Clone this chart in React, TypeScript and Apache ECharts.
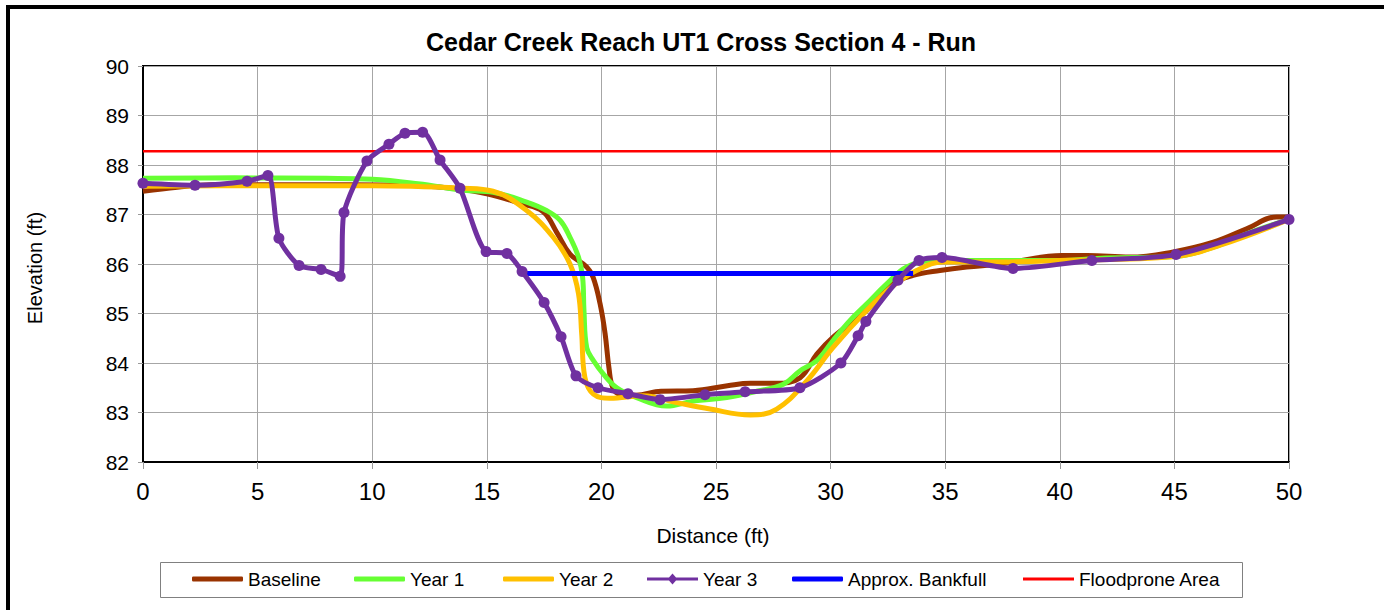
import React, { useEffect, useRef } from "react";
import * as echarts from "echarts";

const FONT = '"Liberation Sans", Arial, sans-serif';

const titleText = "Cedar Creek Reach UT1 Cross Section 4 - Run";
const xAxisName = "Distance (ft)";
const yAxisName = "Elevation (ft)";
const xTicks = { min: 0, max: 50, interval: 5 };
const yTicks = { min: 82, max: 90, interval: 1 };

const seriesNames = ["Baseline", "Year 1", "Year 2", "Year 3", "Approx. Bankfull", "Floodprone Area"];
const seriesColors = ["#993300", "#66FF33", "#FFC000", "#7030A0", "#0000FF", "#FF0000"];

const baseline: [number, number][] = [
  [0, 87.47], [1.5, 87.55], [3, 87.6], [6, 87.6], [9, 87.6], [12, 87.58], [13.5, 87.53],
  [15, 87.42], [16.5, 87.22], [17.45, 87.06], [18.05, 86.64], [18.63, 86.2], [19.36, 85.94],
  [19.64, 85.73], [19.94, 85.2], [20.16, 84.6], [20.33, 83.9], [20.5, 83.5], [20.8, 83.37],
  [21.5, 83.35], [22.6, 83.43], [24.0, 83.44], [25.5, 83.54], [26.5, 83.59], [27.6, 83.59],
  [28.66, 83.7], [29.4, 84.18], [30.1, 84.52], [31.57, 85.06], [32.72, 85.6], [33.6, 85.77],
  [34.77, 85.87], [35.94, 85.94], [37.4, 86.0], [40.1, 86.17], [41.2, 86.17], [43.06, 86.14],
  [44.9, 86.24], [46.7, 86.44], [48.15, 86.71], [49.46, 86.95], [50, 86.95],
];

const year1: [number, number][] = [
  [0, 87.73], [4, 87.74], [8, 87.73], [10, 87.71], [12, 87.62], [14, 87.49], [15.27, 87.45],
  [16.74, 87.25], [17.6, 87.08], [18.2, 86.88], [18.63, 86.54], [19.0, 86.14], [19.18, 85.73],
  [19.24, 85.06], [19.36, 84.31], [19.65, 84.05], [20.08, 83.78], [20.67, 83.5], [21.54, 83.3],
  [22.85, 83.13], [24.0, 83.23], [25.47, 83.3], [26.9, 83.44], [27.94, 83.57], [28.66, 83.84],
  [29.4, 84.05], [30.1, 84.45], [30.85, 84.86], [31.57, 85.19], [32.45, 85.6], [33.32, 85.94],
  [34.47, 86.07], [36.65, 86.07], [40, 86.07], [42, 86.12], [45, 86.15], [46.7, 86.34],
  [48.15, 86.61], [50, 86.9],
];

const year2: [number, number][] = [
  [0, 87.57], [5, 87.58], [10, 87.58], [13.96, 87.53], [15.27, 87.47], [16.74, 87.08],
  [17.9, 86.54], [18.63, 86.0], [19.0, 85.4], [19.14, 84.59], [19.28, 83.71], [19.65, 83.37],
  [20.37, 83.29], [21.83, 83.34], [23.28, 83.2], [24.74, 83.07], [26.5, 82.95], [27.65, 83.07],
  [28.96, 83.64], [30.1, 84.31], [31.57, 85.06], [32.73, 85.56], [33.75, 85.87], [34.9, 86.04],
  [36.65, 86.04], [40, 86.07], [45, 86.15], [47, 86.38], [50, 86.9],
];

const year3: [number, number][] = [
  [0, 87.63], [2.27, 87.59], [4.54, 87.67], [5.45, 87.79], [5.93, 86.52], [6.81, 85.97],
  [7.77, 85.89], [8.6, 85.75], [8.77, 87.04], [9.77, 88.08], [10.73, 88.42], [11.43, 88.64],
  [12.2, 88.66], [12.96, 88.1], [13.83, 87.53], [14.97, 86.25], [15.88, 86.21], [16.54, 85.85],
  [17.5, 85.22], [18.24, 84.53], [18.89, 83.74], [19.85, 83.5], [21.16, 83.38], [22.56, 83.26],
  [24.52, 83.36], [26.27, 83.42], [28.66, 83.5], [30.45, 84.0], [31.2, 84.55], [31.54, 84.84],
  [32.94, 85.67], [33.86, 86.07], [34.86, 86.13], [37.96, 85.91], [41.4, 86.07], [45.07, 86.19],
  [50, 86.9],
];

const bankfull: [number, number][] = [[16.7, 85.81], [33.6, 85.81]];
const floodprone: [number, number][] = [[0, 88.28], [50, 88.28]];

const legendLefts = [192, 354, 503, 647, 792, 1023];
const legendIcons = [
  "roundRect",
  "roundRect",
  "roundRect",
  "path://M0,4 L22,4 L25.5,0 L29,4 L51,4 L51,7 L29,7 L25.5,11 L22,7 L0,7 Z",
  "roundRect",
  "rect",
];
const legendIconHeights = [5, 5, 5, 11, 5, 3];

export default function App() {
  const ref = useRef<HTMLDivElement>(null);

  useEffect(() => {
    if (!ref.current) return;
    const chart = echarts.init(ref.current, null, { renderer: "svg" });

    const lineSeries = (i: number, data: [number, number][], width: number, z: number, smooth: number | boolean) => ({
      name: seriesNames[i],
      type: "line",
      data,
      smooth,
      symbol: "none",
      z,
      lineStyle: { color: seriesColors[i], width },
      itemStyle: { color: seriesColors[i] },
    });

    const option: any = {
      animation: false,
      backgroundColor: "#ffffff",
      textStyle: { fontFamily: FONT },
      grid: {
        left: 143,
        top: 66,
        width: 1146,
        height: 396,
        show: true,
        borderColor: "#000",
        borderWidth: 2,
        backgroundColor: "transparent",
      },
      xAxis: {
        type: "value",
        min: xTicks.min,
        max: xTicks.max,
        interval: xTicks.interval,
        axisLine: { show: true, lineStyle: { color: "#000", width: 2 } },
        axisTick: { show: true, length: 7, lineStyle: { color: "#999" } },
        axisLabel: { fontSize: 24, color: "#000", margin: 17, fontFamily: FONT },
        splitLine: { show: true, lineStyle: { color: "#A6A6A6", width: 1 } },
      },
      yAxis: {
        type: "value",
        min: yTicks.min,
        max: yTicks.max,
        interval: yTicks.interval,
        axisLine: { show: true, lineStyle: { color: "#000", width: 2 } },
        axisTick: { show: true, length: 5, lineStyle: { color: "#999" } },
        axisLabel: { fontSize: 21, color: "#000", margin: 14, fontFamily: FONT },
        splitLine: { show: true, lineStyle: { color: "#A6A6A6", width: 1 } },
      },
      legend: seriesNames.map((n, i) => ({
        data: [{ name: n, icon: legendIcons[i] }],
        left: legendLefts[i],
        top: 579 - 11,
        padding: 0,
        itemWidth: 51,
        itemHeight: legendIconHeights[i],
        textStyle: { fontSize: 19, color: "#000", fontFamily: FONT, lineHeight: 22 },
        selectedMode: false,
      })),
      graphic: [
        {
          type: "rect",
          shape: { x: 8, y: 7, width: 1400, height: 640 },
          style: { fill: "none", stroke: "#000", lineWidth: 4 },
          silent: true,
        },
        {
          type: "rect",
          shape: { x: 160.5, y: 562.5, width: 1082, height: 35 },
          style: { fill: "none", stroke: "#808080", lineWidth: 1 },
          silent: true,
        },
        {
          type: "text",
          x: 701,
          y: 42,
          style: {
            text: titleText,
            align: "center",
            verticalAlign: "middle",
            fontSize: 25,
            fontWeight: "bold",
            fontFamily: FONT,
            fill: "#000",
          },
        },
        {
          type: "text",
          x: 713,
          y: 535,
          style: {
            text: xAxisName,
            align: "center",
            verticalAlign: "middle",
            fontSize: 21,
            fontFamily: FONT,
            fill: "#000",
          },
        },
        {
          type: "text",
          x: 35,
          y: 268,
          rotation: Math.PI / 2,
          style: {
            text: yAxisName,
            align: "center",
            verticalAlign: "middle",
            fontSize: 20,
            fontFamily: FONT,
            fill: "#000",
          },
        },
      ],
      series: [
        lineSeries(0, baseline, 5, 3, 0.4),
        lineSeries(1, year1, 5, 3, 0.4),
        lineSeries(2, year2, 5, 4, 0.4),
        {
          name: seriesNames[3],
          type: "line",
          data: year3,
          smooth: 0.25,
          symbol: "circle",
          symbolSize: 11,
          z: 6,
          lineStyle: { color: seriesColors[3], width: 5 },
          itemStyle: { color: seriesColors[3] },
        },
        lineSeries(4, bankfull, 5, 5, false),
        lineSeries(5, floodprone, 2.5, 2, false),
      ],
    };

    chart.setOption(option);
    return () => chart.dispose();
  }, []);

  return (
    <div
      ref={ref}
      style={{ position: "absolute", left: 0, top: 0, width: 1384, height: 610 }}
    />
  );
}
